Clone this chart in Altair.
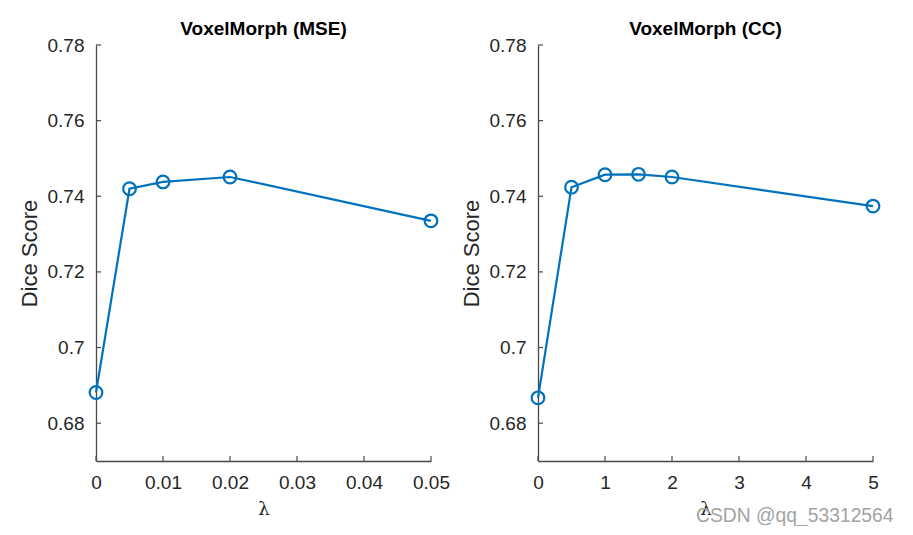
import altair as alt
import pandas as pd

# ---- data ----
mse_lambda = [0, 0.005, 0.01, 0.02, 0.05]
mse_dice = [0.6881, 0.7420, 0.7438, 0.7451, 0.7335]

cc_lambda = [0, 0.5, 1, 1.5, 2, 5]
cc_dice = [0.6867, 0.7424, 0.7457, 0.7458, 0.7451, 0.7374]

y_ticks = [0.68, 0.70, 0.72, 0.74, 0.76, 0.78]
mse_x_ticks = [0, 0.01, 0.02, 0.03, 0.04, 0.05]
cc_x_ticks = [0, 1, 2, 3, 4, 5]

titles = ["VoxelMorph (MSE)", "VoxelMorph (CC)"]
watermark = ["CSDN @qq_53312564"]

W, H = 335, 416
BLUE = "#0072BD"
AXIS = "#4a4a4a"
FONT = "Liberation Sans"


def panel(title, xs, ys, xticks, xdomain, fmt, extra=None):
    df = pd.DataFrame({"lam": xs, "dice": ys})
    xscale = alt.Scale(domain=xdomain, nice=False, zero=False)
    yscale = alt.Scale(domain=[0.67, 0.78], nice=False, zero=False)
    xaxis = alt.Axis(
        values=xticks, format=fmt, title="λ", ticks=False, tickSize=0,
        grid=False, domainColor=AXIS, domainWidth=1.3,
        labelFont=FONT, labelFontSize=19, labelColor="#262626",
        labelPadding=12, labelFlush=False, labelOverlap=False,
        titleFont="DejaVu Serif", titleFontSize=18, titleFontWeight="normal",
        titleColor="#262626", titlePadding=8,
    )
    yaxis = alt.Axis(
        values=y_ticks, format=".2~f", title="Dice Score", ticks=False, tickSize=0,
        grid=False, domainColor=AXIS, domainWidth=1.3,
        labelFont=FONT, labelFontSize=19, labelColor="#262626",
        labelPadding=12, labelFlush=False, labelOverlap=False,
        titleFont=FONT, titleFontSize=22, titleFontWeight="normal",
        titleColor="#262626", titlePadding=6,
    )
    base = alt.Chart(df).encode(
        x=alt.X("lam:Q", scale=xscale, axis=xaxis),
        y=alt.Y("dice:Q", scale=yscale, axis=yaxis),
    )
    line = base.mark_line(color=BLUE, strokeWidth=2.2, clip=False)
    pts = base.mark_point(shape="circle", size=160, filled=False, color=BLUE,
                          strokeWidth=2.2, opacity=1, clip=False)
    ytk = alt.Chart(pd.DataFrame({"dice": y_ticks})).mark_rule(color=AXIS, strokeWidth=1.2).encode(
        y=alt.Y("dice:Q", scale=yscale), x=alt.value(0), x2=alt.value(5))
    xtk = alt.Chart(pd.DataFrame({"lam": xticks})).mark_rule(color=AXIS, strokeWidth=1.2).encode(
        x=alt.X("lam:Q", scale=xscale), y=alt.value(H), y2=alt.value(H - 5))
    layers = [line, pts, ytk, xtk]
    if extra is not None:
        layers.append(extra)
    return alt.layer(*layers).properties(
        width=W, height=H,
        title=alt.TitleParams(title, font=FONT, fontSize=19, fontWeight="bold",
                              color="black", anchor="middle", frame="group",
                              offset=-3),
    )


wm = alt.Chart(pd.DataFrame({"t": watermark})).mark_text(
    font=FONT, fontSize=19.3, color="#a3a3a3", align="left", baseline="alphabetic"
).encode(text="t:N", x=alt.value(158), y=alt.value(476.5))

left = panel(titles[0], mse_lambda, mse_dice, mse_x_ticks, [0, 0.05], "~g")
right = panel(titles[1], cc_lambda, cc_dice, cc_x_ticks, [0, 5], "d", extra=wm)

chart = alt.hconcat(left, right, spacing=107, bounds="flush").properties(
    padding={"left": 10, "top": 12, "right": 0, "bottom": 0}
).configure(background="white").configure_view(stroke=None)

chart.save("out.html", embed_options={"renderer": "svg", "actions": False})
